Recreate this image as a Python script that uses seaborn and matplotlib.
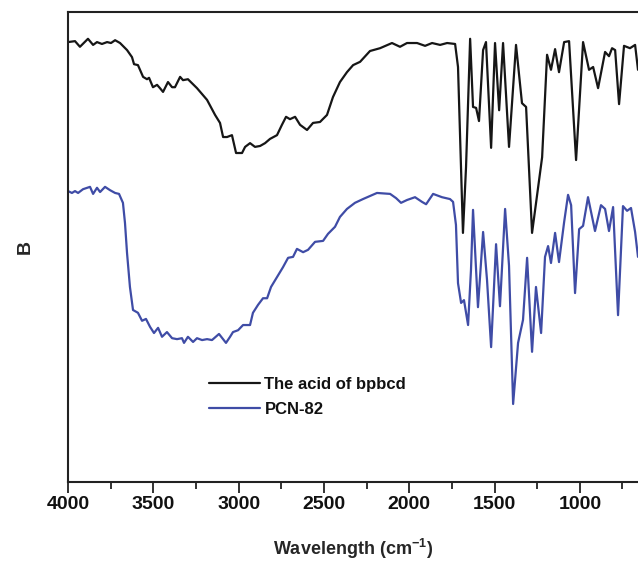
import numpy as np
import pandas as pd
import seaborn as sns
import matplotlib
matplotlib.use('Agg')
import matplotlib.pyplot as plt
from matplotlib.ticker import MultipleLocator, NullLocator

# FTIR spectra (wavenumber in cm-1, transmittance in a.u.)
acid_wn = [4000, 3959, 3930, 3883, 3853, 3830, 3801, 3771, 3748, 3724, 3695, 3654, 3625,
           3613, 3590, 3560, 3537, 3525, 3502, 3478, 3461, 3443, 3414, 3390, 3373, 3343,
           3326, 3297, 3244, 3185, 3138, 3109, 3091, 3068, 3039, 3015, 2980, 2962, 2933,
           2904, 2874, 2845, 2816, 2775, 2746, 2722, 2699, 2669, 2640, 2599, 2564, 2523,
           2482, 2447, 2406, 2365, 2329, 2288, 2230, 2171, 2101, 2054, 2013, 1954, 1907,
           1866, 1819, 1778, 1731, 1714, 1685, 1667, 1643, 1626, 1608, 1591, 1567, 1550,
           1520, 1497, 1473, 1450, 1415, 1374, 1339, 1315, 1280, 1221, 1192, 1169, 1145,
           1122, 1092, 1063, 1022, 981, 946, 922, 893, 852, 829, 811, 793, 770, 741, 706,
           676, 659]
acid_t = [93.6, 93.8, 92.6, 94.3, 93.0, 93.6, 93.2, 93.6, 93.4, 94.0, 93.4, 91.9, 90.4,
          88.9, 88.7, 86.2, 85.7, 86.0, 84.0, 84.5, 83.8, 83.0, 85.1, 84.0, 84.0, 86.2,
          85.5, 85.7, 83.8, 81.3, 78.1, 76.4, 73.4, 73.4, 73.8, 70.0, 70.0, 71.3, 72.1,
          71.3, 71.5, 72.1, 73.0, 73.8, 76.0, 77.7, 77.2, 77.7, 76.0, 74.9, 76.4, 76.6,
          78.1, 81.9, 85.1, 87.2, 88.7, 89.4, 91.7, 92.3, 93.4, 92.6, 93.4, 93.4, 92.8,
          93.4, 93.0, 93.4, 93.2, 88.3, 53.0, 67.0, 94.3, 79.8, 79.6, 76.8, 91.9, 93.6,
          71.1, 93.4, 79.1, 93.4, 71.3, 93.0, 80.6, 79.8, 53.0, 69.1, 90.9, 87.7, 92.1,
          87.2, 93.6, 93.8, 68.5, 93.6, 87.7, 88.3, 83.8, 91.5, 90.6, 92.3, 91.9, 80.4,
          92.8, 92.3, 93.0, 87.7]

pcn_wn = [4000, 3977, 3959, 3941, 3912, 3871, 3853, 3830, 3812, 3783, 3754, 3724, 3701,
          3678, 3666, 3654, 3637, 3619, 3590, 3566, 3543, 3519, 3496, 3472, 3449, 3420,
          3390, 3361, 3332, 3320, 3297, 3267, 3244, 3214, 3185, 3156, 3115, 3074, 3050,
          3033, 3003, 2974, 2933, 2916, 2886, 2857, 2833, 2810, 2775, 2740, 2710, 2681,
          2658, 2622, 2593, 2552, 2505, 2476, 2435, 2406, 2365, 2318, 2271, 2189, 2112,
          2077, 2048, 2013, 1966, 1925, 1901, 1860, 1808, 1761, 1743, 1726, 1714, 1696,
          1679, 1655, 1638, 1626, 1597, 1567, 1544, 1520, 1491, 1468, 1438, 1415, 1391,
          1362, 1333, 1309, 1280, 1257, 1227, 1204, 1186, 1169, 1145, 1122, 1092, 1069,
          1051, 1028, 1004, 981, 952, 911, 876, 852, 829, 805, 776, 747, 723, 700, 676,
          659]
pcn_t = [61.9, 61.5, 61.9, 61.5, 62.3, 62.8, 61.3, 62.6, 61.7, 62.8, 62.1, 61.5, 61.3,
         59.4, 55.1, 48.7, 41.5, 36.6, 36.0, 34.3, 34.7, 33.0, 31.7, 32.8, 30.9, 31.9,
         30.6, 30.4, 30.6, 29.6, 30.9, 29.8, 30.6, 30.2, 30.4, 30.2, 31.5, 29.6, 30.9,
         31.9, 32.3, 33.4, 33.4, 36.0, 37.7, 39.1, 39.1, 41.5, 43.6, 45.7, 47.7, 47.9,
         49.6, 48.9, 49.4, 51.1, 51.3, 52.8, 54.3, 56.4, 58.1, 59.4, 60.2, 61.5, 61.3,
         60.4, 59.4, 60.0, 60.6, 59.6, 59.1, 61.3, 60.6, 60.2, 59.6, 54.7, 42.3, 38.1,
         38.7, 33.4, 45.1, 57.9, 37.2, 53.2, 43.0, 28.7, 50.6, 37.4, 58.1, 46.0, 16.6,
         29.6, 34.5, 47.7, 27.7, 41.5, 31.7, 47.9, 50.2, 46.6, 53.0, 46.8, 55.3, 61.1,
         58.9, 40.2, 53.8, 54.5, 60.6, 53.4, 58.9, 58.1, 53.4, 58.5, 35.5, 58.7, 57.7,
         58.3, 53.2, 47.9]

series_names = ['The acid of bpbcd', 'PCN-82']
series_colors = ['#161616', '#3f4ca6']

df = pd.concat([
    pd.DataFrame({'wn': acid_wn, 't': acid_t, 'sample': series_names[0]}),
    pd.DataFrame({'wn': pcn_wn, 't': pcn_t, 'sample': series_names[1]}),
], ignore_index=True)

sns.set_theme(style='white')
plt.rcParams.update({
    'font.family': ['Liberation Sans', 'DejaVu Sans'],
    'font.weight': 'bold',
    'text.color': '#111111',
    'xtick.color': '#111111',
    'mathtext.fontset': 'custom',
    'mathtext.rm': 'Liberation Sans:bold',
    'mathtext.bf': 'Liberation Sans:bold',
})

fig = plt.figure(figsize=(6.38, 5.61), dpi=100)
ax = fig.add_axes([0.1066, 0.1408, 0.8934, 0.8378])

sns.lineplot(data=df, x='wn', y='t', hue='sample', palette=series_colors,
             sort=False, estimator=None, linewidth=1.6, ax=ax, legend=False)

ax.set_xlim(4000, 659)
ax.set_ylim(0, 100)
ax.xaxis.set_major_locator(MultipleLocator(500))
ax.xaxis.set_minor_locator(MultipleLocator(250))
ax.yaxis.set_major_locator(NullLocator())
ax.tick_params(axis='x', which='major', direction='out', length=8, width=1.3,
               color='#222222', labelsize=14, pad=2, bottom=True)
ax.tick_params(axis='x', which='minor', direction='out', length=5, width=1.3,
               color='#222222', bottom=True)
for lbl in ax.get_xticklabels():
    lbl.set_fontweight('bold')

for side in ['left', 'top', 'bottom']:
    ax.spines[side].set_color('#222222')
    ax.spines[side].set_linewidth(1.5)
ax.spines['right'].set_visible(False)

ax.set_xlabel(r'Wavelength (cm$^{-1}$)', fontsize=13, fontweight='bold', labelpad=17)
ax.set_ylabel('B', fontsize=14, fontweight='bold', labelpad=25)

handles = [plt.Line2D([], [], color=c, linewidth=1.6) for c in series_colors]
ax.legend(handles, series_names, loc='upper left', bbox_to_anchor=(0.235, 0.238),
          frameon=False, handlelength=3.1, handletextpad=0.25, labelspacing=0.62,
          borderaxespad=0, prop={'size': 12, 'weight': 'bold'})

fig.savefig('out.png', dpi=100)
